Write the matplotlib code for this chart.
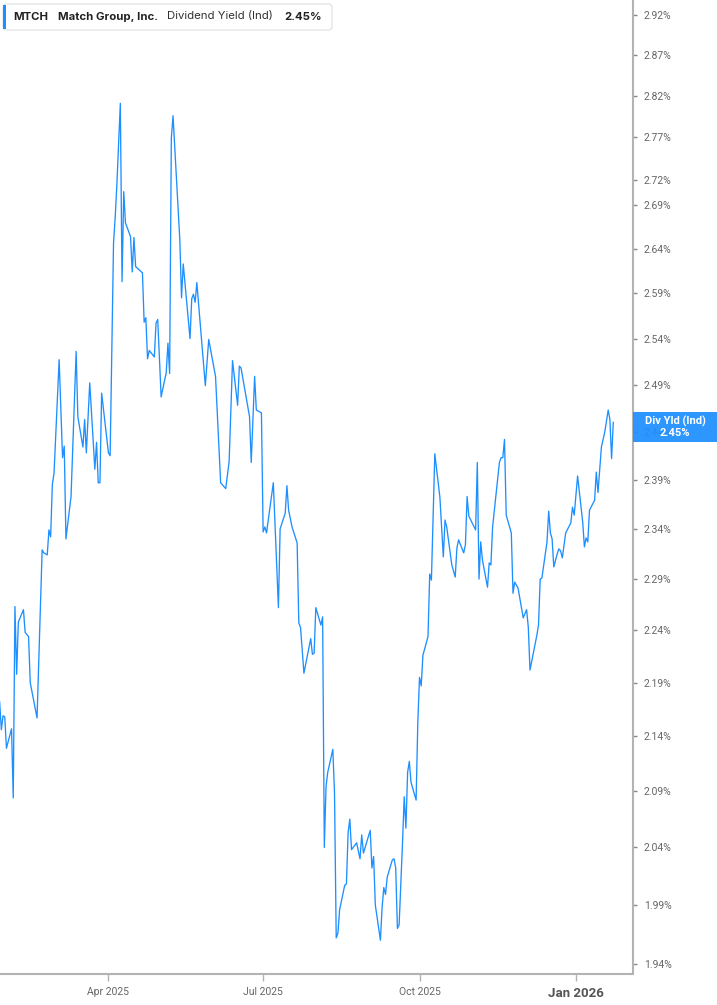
import matplotlib
matplotlib.use("Agg")
import matplotlib.pyplot as plt
import pandas as pd
from matplotlib.ticker import FixedLocator, NullLocator, FuncFormatter
from matplotlib.patches import FancyBboxPatch, Rectangle

ticker = "MTCH"
company = "Match Group, Inc."
metric = "Dividend Yield (Ind)"
last_value = 2.45

# dividend yield (%)
dates = [
    "2025-01-27", "2025-01-28", "2025-01-29", "2025-01-30", "2025-01-31", "2025-02-03", "2025-02-04", "2025-02-05",
    "2025-02-06", "2025-02-07", "2025-02-10", "2025-02-11", "2025-02-12", "2025-02-13", "2025-02-14", "2025-02-18",
    "2025-02-21", "2025-02-22", "2025-02-24", "2025-02-25", "2025-02-26", "2025-02-27", "2025-02-28", "2025-03-03",
    "2025-03-05", "2025-03-06", "2025-03-07", "2025-03-10", "2025-03-13", "2025-03-14", "2025-03-17", "2025-03-18",
    "2025-03-19", "2025-03-21", "2025-03-23", "2025-03-24", "2025-03-25", "2025-03-26", "2025-03-27", "2025-03-28",
    "2025-04-01", "2025-04-02", "2025-04-04", "2025-04-05", "2025-04-06", "2025-04-08", "2025-04-09", "2025-04-10",
    "2025-04-11", "2025-04-14", "2025-04-15", "2025-04-16", "2025-04-17", "2025-04-21", "2025-04-22", "2025-04-23",
    "2025-04-24", "2025-04-25", "2025-04-28", "2025-04-29", "2025-04-30", "2025-05-02", "2025-05-05", "2025-05-06",
    "2025-05-07", "2025-05-08", "2025-05-09", "2025-05-13", "2025-05-14", "2025-05-15", "2025-05-19", "2025-05-20",
    "2025-05-21", "2025-05-22", "2025-05-23", "2025-05-28", "2025-05-30", "2025-06-03", "2025-06-06", "2025-06-09",
    "2025-06-11", "2025-06-13", "2025-06-16", "2025-06-17", "2025-06-18", "2025-06-23", "2025-06-24", "2025-06-26",
    "2025-06-27", "2025-06-30", "2025-07-01", "2025-07-02", "2025-07-03", "2025-07-07", "2025-07-10", "2025-07-11",
    "2025-07-14", "2025-07-15", "2025-07-16", "2025-07-18", "2025-07-21", "2025-07-22", "2025-07-23", "2025-07-25",
    "2025-07-28", "2025-07-29", "2025-07-30", "2025-07-31", "2025-08-01", "2025-08-04", "2025-08-05", "2025-08-06",
    "2025-08-07", "2025-08-08", "2025-08-11", "2025-08-12", "2025-08-13", "2025-08-14", "2025-08-15", "2025-08-18",
    "2025-08-19", "2025-08-20", "2025-08-21", "2025-08-22", "2025-08-25", "2025-08-27", "2025-08-28", "2025-08-29",
    "2025-09-02", "2025-09-03", "2025-09-04", "2025-09-05", "2025-09-08", "2025-09-09", "2025-09-10", "2025-09-11",
    "2025-09-12", "2025-09-15", "2025-09-16", "2025-09-17", "2025-09-18", "2025-09-19", "2025-09-21", "2025-09-22",
    "2025-09-23", "2025-09-24", "2025-09-25", "2025-09-26", "2025-09-29", "2025-09-30", "2025-10-01", "2025-10-02",
    "2025-10-03", "2025-10-06", "2025-10-07", "2025-10-08", "2025-10-10", "2025-10-13", "2025-10-15", "2025-10-16",
    "2025-10-17", "2025-10-20", "2025-10-22", "2025-10-23", "2025-10-24", "2025-10-27", "2025-10-28", "2025-10-29",
    "2025-10-30", "2025-11-03", "2025-11-04", "2025-11-05", "2025-11-06", "2025-11-07", "2025-11-10", "2025-11-11",
    "2025-11-12", "2025-11-13", "2025-11-17", "2025-11-18", "2025-11-19", "2025-11-20", "2025-11-21", "2025-11-24",
    "2025-11-25", "2025-11-26", "2025-11-28", "2025-12-01", "2025-12-03", "2025-12-04", "2025-12-05", "2025-12-09",
    "2025-12-10", "2025-12-11", "2025-12-12", "2025-12-15", "2025-12-16", "2025-12-17", "2025-12-18", "2025-12-19",
    "2025-12-21", "2025-12-22", "2025-12-23", "2025-12-24", "2025-12-26", "2025-12-29", "2025-12-30", "2025-12-31",
    "2026-01-02", "2026-01-05", "2026-01-06", "2026-01-07", "2026-01-08", "2026-01-09", "2026-01-12", "2026-01-13",
    "2026-01-14", "2026-01-16", "2026-01-18", "2026-01-20", "2026-01-21", "2026-01-22", "2026-01-23",
]
yield_pct = [
    2.172, 2.146, 2.159, 2.158, 2.129, 2.147, 2.084, 2.263,
    2.198, 2.248, 2.260, 2.238, 2.236, 2.234, 2.190, 2.157,
    2.319, 2.316, 2.314, 2.339, 2.332, 2.385, 2.397, 2.517,
    2.413, 2.425, 2.330, 2.373, 2.526, 2.456, 2.424, 2.453,
    2.418, 2.492, 2.431, 2.401, 2.429, 2.387, 2.387, 2.481,
    2.418, 2.415, 2.647, 2.677, 2.716, 2.811, 2.603, 2.706,
    2.670, 2.654, 2.614, 2.653, 2.620, 2.613, 2.558, 2.563,
    2.518, 2.527, 2.520, 2.557, 2.561, 2.477, 2.503, 2.535,
    2.502, 2.769, 2.796, 2.650, 2.585, 2.623, 2.540, 2.584,
    2.589, 2.580, 2.602, 2.489, 2.539, 2.499, 2.387, 2.381,
    2.409, 2.516, 2.468, 2.510, 2.508, 2.456, 2.408, 2.499,
    2.463, 2.460, 2.337, 2.342, 2.336, 2.387, 2.262, 2.340,
    2.356, 2.384, 2.359, 2.342, 2.326, 2.247, 2.243, 2.199,
    2.224, 2.232, 2.217, 2.218, 2.262, 2.245, 2.253, 2.040,
    2.094, 2.107, 2.128, 2.088, 1.962, 1.966, 1.986, 2.007,
    2.008, 2.053, 2.065, 2.038, 2.044, 2.030, 2.051, 2.035,
    2.055, 2.022, 2.032, 1.990, 1.960, 1.988, 2.005, 1.999,
    2.014, 2.029, 2.030, 2.022, 1.970, 1.973, 2.044, 2.085,
    2.057, 2.107, 2.117, 2.098, 2.082, 2.153, 2.195, 2.187,
    2.216, 2.234, 2.295, 2.289, 2.417, 2.372, 2.312, 2.349,
    2.342, 2.304, 2.292, 2.321, 2.329, 2.316, 2.324, 2.373,
    2.353, 2.339, 2.408, 2.290, 2.327, 2.309, 2.282, 2.306,
    2.304, 2.342, 2.408, 2.413, 2.413, 2.432, 2.354, 2.336,
    2.276, 2.287, 2.281, 2.252, 2.260, 2.243, 2.202, 2.235,
    2.245, 2.290, 2.291, 2.327, 2.358, 2.336, 2.330, 2.302,
    2.315, 2.320, 2.318, 2.311, 2.336, 2.346, 2.362, 2.354,
    2.394, 2.347, 2.322, 2.331, 2.327, 2.359, 2.369, 2.398,
    2.377, 2.424, 2.440, 2.463, 2.453, 2.412, 2.450,
]

y_ticks = [1.94, 1.99, 2.04, 2.09, 2.14, 2.19, 2.24, 2.29, 2.34, 2.39, 2.44,
           2.49, 2.54, 2.59, 2.64, 2.69, 2.72, 2.77, 2.82, 2.87, 2.92]
x_ticks = ["2025-04-01", "2025-07-01", "2025-10-01", "2026-01-01"]
x_tick_labels = ["Apr 2025", "Jul 2025", "Oct 2025", "Jan 2026"]

W, H = 717, 1005
line_blue = "#1E8FFF"
axis_grey = "#b3b3b3"
label_grey = "#666666"


def fx(px):
    return px / W


def fy(py):
    return 1 - py / H


fig = plt.figure(figsize=(W / 100, H / 100), dpi=100)
ax = fig.add_axes([0, fy(974), fx(632.7), 974 / H])

ax.plot(pd.to_datetime(dates), yield_pct, color=line_blue, lw=0.95)

ax.set_yscale("log")
ax.set_ylim(1.9317, 2.9389)
ax.set_xlim(pd.Timestamp("2025-01-27 05:00"), pd.Timestamp("2026-02-03 10:00"))

for side in ["left", "top"]:
    ax.spines[side].set_visible(False)
for side in ["right", "bottom"]:
    ax.spines[side].set_color(axis_grey)
    ax.spines[side].set_linewidth(1.5)

ax.yaxis.tick_right()
ax.yaxis.set_major_locator(FixedLocator(y_ticks))
ax.yaxis.set_minor_locator(NullLocator())
ax.yaxis.set_major_formatter(FuncFormatter(lambda v, _: f"{v:.2f}%"))
ax.tick_params(axis="y", length=3, width=1, color="#888888", pad=5,
               labelsize=7.5, labelcolor=label_grey)
for lbl in ax.get_yticklabels():
    lbl.set_fontfamily("Roboto")

ax.set_xticks(pd.to_datetime(x_ticks))
ax.set_xticklabels(x_tick_labels)
ax.xaxis.set_minor_locator(NullLocator())
ax.tick_params(axis="x", length=5, width=1, color=axis_grey, pad=4,
               labelsize=7.5, labelcolor=label_grey)
for lbl in ax.get_xticklabels():
    lbl.set_fontfamily("Roboto")
jan = ax.get_xticklabels()[-1]
jan.set_fontweight("bold")
jan.set_fontsize(9.5)
jan.set_color("#555555")

# last value tag on the axis (covers the 2.44% label, as in the source)
fig.patches.append(Rectangle((fx(632.7), fy(442)), fx(717) - fx(632.7), (442 - 412) / H,
                             transform=fig.transFigure, facecolor=line_blue,
                             edgecolor="none", alpha=0.93, zorder=5))
fig.text(fx(675), fy(421), "Div Yld (Ind)", color="white", fontsize=8, fontweight="bold",
         ha="center", va="center", family="Roboto", zorder=6)
fig.text(fx(675), fy(433), f"{last_value:.2f}%", color="white", fontsize=8, fontweight="bold",
         ha="center", va="center", family="Roboto", zorder=6)

# header legend box
fig.patches.append(FancyBboxPatch((fx(3), fy(30)), fx(332) - fx(3), 26 / H,
                                  boxstyle="round,pad=0,rounding_size=0.004",
                                  transform=fig.transFigure, facecolor="white",
                                  edgecolor="#e4e4e4", lw=1, zorder=5))
fig.patches.append(Rectangle((fx(3), fy(29)), fx(3), 24 / H, transform=fig.transFigure,
                             facecolor=line_blue, edgecolor="none", zorder=6))
head_y = fy(16.5)
fig.text(fx(13), head_y, ticker, fontsize=8.2, fontweight="bold", color="#222222",
         va="center", family="Inter", zorder=6)
fig.text(fx(58), head_y, company, fontsize=8.2, fontweight="bold", color="#222222",
         va="center", family="Inter", zorder=6)
fig.text(fx(167), head_y, metric, fontsize=8.2, color="#333333",
         va="center", family="Inter", zorder=6)
fig.text(fx(284), head_y, f"{last_value:.2f}%", fontsize=8.2, fontweight="bold", color="#222222",
         va="center", family="Inter", zorder=6)

fig.savefig("out.png", dpi=100)
